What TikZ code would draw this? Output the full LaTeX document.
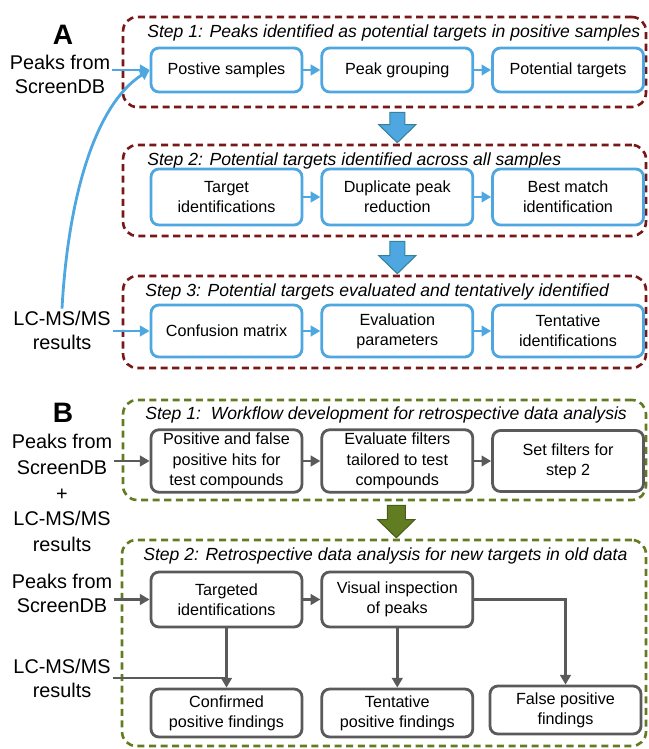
\documentclass[tikz,border=0pt]{standalone}
\usepackage{fontspec}
\setmainfont{Liberation Sans}
\usetikzlibrary{arrows.meta,positioning,calc}
\definecolor{kek}{RGB}{78,167,224}
\definecolor{bordo}{RGB}{120,24,24}
\definecolor{oliva}{RGB}{98,124,34}
\definecolor{szurke}{RGB}{90,90,90}
\definecolor{kekszel}{RGB}{52,130,150}
\definecolor{olivaszel}{RGB}{70,92,24}
\tikzset{
  kdob/.style={draw=kek,line width=1.6pt,rounded corners=4.5pt,fill=white,align=center,
    minimum width=3.02cm,inner sep=2pt,font=\fontsize{9.2}{11.5}\selectfont},
  sdob/.style={kdob,draw=szurke},
  keret/.style={draw=bordo,line width=1.5pt,dash pattern=on 4pt off 2.6pt,
    rounded corners=8pt,minimum width=10.46cm},
  zkeret/.style={keret,draw=oliva},
  cim/.style={anchor=west,inner sep=0pt,font=\fontsize{10}{12}\selectfont\itshape},
  forras/.style={align=center,inner sep=1pt,font=\fontsize{11.3}{13.6}\selectfont},
  knyil/.style={draw=kek,line width=1.6pt,-{Triangle[length=5.5pt,width=6pt]}},
  snyil/.style={knyil,draw=szurke},
  svonal/.style={draw=szurke,line width=1.6pt},
  tomb/.style={fill=kek,draw=kekszel,line width=0.6pt,line join=miter},
  ztomb/.style={tomb,fill=oliva,draw=olivaszel},
  betu/.style={font=\fontsize{16}{18}\selectfont\bfseries},
}
\begin{document}
\begin{tikzpicture}[x=0.02cm,y=-0.02cm,node distance=0.34cm]
  \useasboundingbox (0,0) rectangle (648,749);

  % ---- A ----
  \node[betu] (A) at (63,35) {A};
  \node[keret,minimum height=1.8cm] (fA1) at (384.5,62) {};
  \node[cim] (tA1) at (147,33) {Step 1: Peaks identified as potential targets in positive samples};
  \node[kdob,minimum height=0.88cm] (a11) at (226.5,70) {Postive samples};
  \node[kdob,minimum height=0.88cm,right=of a11] (a12) {Peak grouping};
  \node[kdob,minimum height=0.88cm,right=of a12] (a13) {Potential targets};

  \node[keret,minimum height=1.82cm] (fA2) at (384.5,190.5) {};
  \node[cim] (tA2) at (147,161) {Step 2: Potential targets identified across all samples};
  \node[kdob,minimum height=1.12cm] (a21) at (226.5,197) {Target\\identifications};
  \node[kdob,minimum height=1.12cm,right=of a21] (a22) {Duplicate peak\\reduction};
  \node[kdob,minimum height=1.12cm,right=of a22] (a23) {Best match\\identification};

  \node[keret,minimum height=1.84cm] (fA3) at (384.5,322) {};
  \node[cim] (tA3) at (145,292) {Step 3: Potential targets evaluated and tentatively identified};
  \node[kdob,minimum height=1.04cm] (a31) at (226.5,331) {Confusion matrix};
  \node[kdob,minimum height=1.04cm,right=of a31] (a32) {Evaluation\\parameters};
  \node[kdob,minimum height=1.04cm,right=of a32] (a33) {Tentative\\identifications};

  % block arrows between the steps
  \foreach \f/\g/\c in {fA1/fA2/a12,fA2/fA3/a22}{
    \coordinate (t\f) at ($(\c|-\f.south)+(0,4)$);
    \coordinate (h\f) at ($(\c|-\g.north)+(0,-1)$);
    \draw[tomb] (t\f) ++(-7.5,0) -- ++(15,0) -- ($(h\f)+(7.5,-18)$) -- ++(11,0) -- (h\f)
      -- ++(-18.5,-18) -- ++(11,0) -- cycle;
  }

  \node[forras] (pkA) at (60,74) {Peaks from\\ScreenDB};
  \node[forras] (lcA) at (62,330) {LC-MS/MS\\results};

  \draw[knyil] (pkA.east|-a11.west) -- (a11.west);
  \draw[knyil] (lcA.north) .. controls +(6,-110) and +(-55,35) .. (a11.west);
  \draw[knyil] (lcA.east|-a31.west) -- (a31.west);
  \foreach \i in {1,2,3}{
    \draw[knyil] (a\i1.east) -- (a\i2.west);
    \draw[knyil] (a\i2.east) -- (a\i3.west);
  }

  % ---- B ----
  \node[betu] (B) at (63,413) {B};
  \node[zkeret,minimum height=2cm] (fB1) at (384.5,450) {};
  \node[cim] (tB1) at (145,415) {Step 1:\ \ Workflow development for retrospective data analysis};
  \node[sdob,minimum height=1.22cm] (b11) at (226.5,461) {Positive and false\\positive hits for\\test compounds};
  \node[sdob,minimum height=1.22cm,right=of b11] (b12) {Evaluate filters\\tailored to test\\compounds};
  \node[sdob,minimum height=1.22cm,right=of b12] (b13) {Set filters for\\step 2};

  \node[zkeret,minimum width=10.48cm,minimum height=4.12cm] (fB2) at (384,643) {};
  \node[cim] (tB2) at (143,556) {Step 2: Retrospective data analysis for new targets in old data};
  \node[sdob,minimum height=1.1cm] (b21) at (226.5,599.5) {Targeted\\identifications};
  \node[sdob,minimum height=1.1cm,right=of b21] (b22) {Visual inspection\\of peaks};
  \node[sdob,minimum height=0.96cm] (b31) at (226.5,713) {Confirmed\\positive findings};
  \node[sdob,minimum height=0.96cm,right=of b31] (b32) {Tentative\\positive findings};
  \node[sdob,minimum height=0.96cm] (b33) at (565.5,710) {False positive\\findings};

  \coordinate (tB) at ($(b12|-fB1.south)+(-1,4)$);
  \coordinate (hB) at ($(b12|-fB2.north)+(-1,-1)$);
  \draw[ztomb] (tB) ++(-9,0) -- ++(18,0) -- ($(hB)+(9,-18)$) -- ++(9.5,0) -- (hB)
    -- ++(-18.5,-18) -- ++(9.5,0) -- cycle;

  \node[forras,font=\fontsize{11.3}{14.7}\selectfont] (srcB1) at (62,493)
    {Peaks from\\ScreenDB\\+\\LC-MS/MS\\results};
  \node[forras] (pkB) at (62,593) {Peaks from\\ScreenDB};
  \node[forras] (lcB) at (62,678) {LC-MS/MS\\results};

  \draw[snyil] (srcB1.east|-b11.west) -- (b11.west);
  \draw[snyil] (b11.east) -- (b12.west);
  \draw[snyil] (b12.east) -- (b13.west);
  \draw[snyil] (pkB.east|-b21.west) -- (b21.west);
  \draw[snyil] (b21.east) -- (b22.west);
  \draw[snyil] (b21.south) -- (b31.north);
  \draw[svonal] (lcB.east) -- (lcB.east-|b21.south);
  \draw[snyil] (b22.south) -- (b32.north);
  \draw[snyil] (b22.east) -| (b33.north);
\end{tikzpicture}
\end{document}
